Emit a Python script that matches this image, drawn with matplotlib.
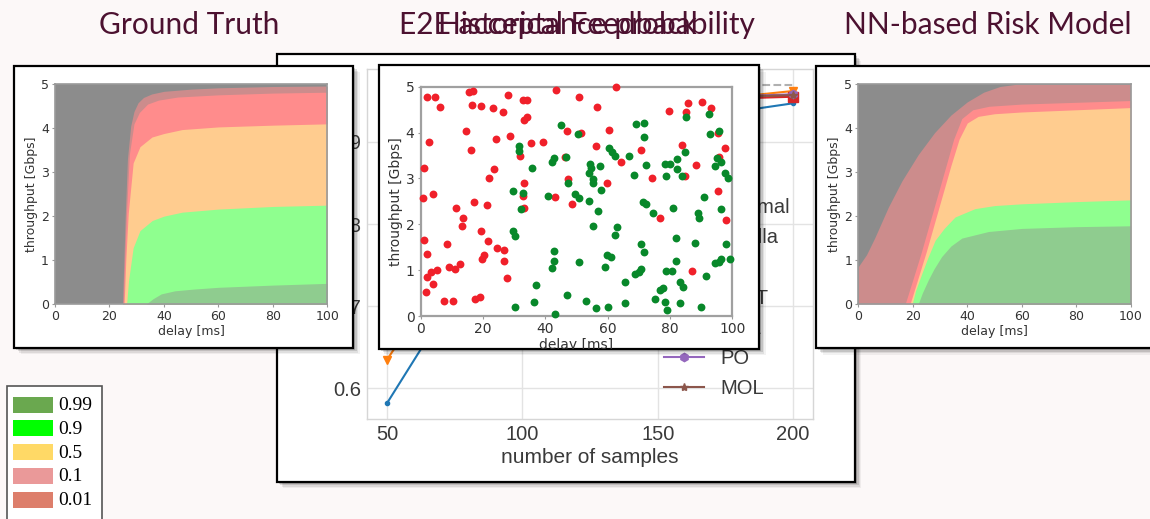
import numpy as np
import matplotlib
matplotlib.use('Agg')
import matplotlib.pyplot as plt
from matplotlib.patches import Rectangle
from matplotlib.lines import Line2D

W, H = 1150, 519
BG = '#fcf8f8'
TITLE_COLOR = '#4c1130'

# ---------------- titles ----------------
title_gt = 'Ground Truth'
title_mid_a = 'E2E acceptance probability'
title_mid_b = 'Historical Feedback'
title_nn = 'NN-based Risk Model'

# ---------------- line chart (background) ----------------
samples = [50, 100, 150, 200]
optimal = [0.969, 0.969, 0.969, 0.969]
vanilla = [0.582, 0.845, 0.923, 0.947]
ens = [0.635, 0.882, 0.945, 0.962]
mwt = [0.700, 0.905, 0.948, 0.957]
mle = [0.740, 0.915, 0.950, 0.955]
po = [0.720, 0.910, 0.952, 0.958]
mol = [0.750, 0.920, 0.953, 0.957]
series_names = ['Optimal', 'Vanilla', 'Ens.', 'MWT', 'MLE', 'PO', 'MOL']
x_ticks = [50, 100, 150, 200]
y_ticks = [0.6, 0.7, 0.8, 0.9]

# ---------------- level legend ----------------
level_labels = ['0.99', '0.9', '0.5', '0.1', '0.01']
level_legend_colors = ['#6aa84f', '#00ff00', '#ffd966', '#ea9999', '#dd7e6b']

# region colours of the two risk maps
col_none = '#8c8c8c'
col_001 = '#cc8c8c'
col_01 = '#ff8c8c'
col_05 = '#ffcc8f'
col_09 = '#8fff8f'
col_099 = '#8fcc8f'

# ---------------- ground truth boundaries ----------------
gt_d001 = [24.8, 25.3, 25.8, 26.6, 27.8, 29.0, 30.5, 32.5, 35.5, 40.0, 50.0, 60.0, 80.0, 100.0]
gt_t001 = [0.0, 1.0, 2.0, 3.3, 4.05, 4.38, 4.58, 4.7, 4.78, 4.84, 4.89, 4.92, 4.95, 4.96]
gt_d01 = [25.1, 25.6, 26.2, 27.3, 29.0, 31.0, 34.0, 38.0, 45.0, 60.0, 80.0, 100.0]
gt_t01 = [0.0, 1.0, 2.0, 3.4, 4.1, 4.36, 4.55, 4.64, 4.71, 4.76, 4.8, 4.82]
gt_d05 = [25.4, 26.0, 26.9, 28.7, 31.2, 35.6, 40.0, 46.7, 60.0, 80.0, 100.0]
gt_t05 = [0.0, 1.0, 2.06, 3.21, 3.58, 3.8, 3.88, 3.97, 4.03, 4.07, 4.1]
gt_d09 = [26.3, 27.0, 28.7, 31.2, 35.7, 40.0, 46.7, 60.0, 80.0, 100.0]
gt_t09 = [0.0, 0.53, 1.28, 1.67, 1.9, 2.0, 2.09, 2.16, 2.22, 2.25]
gt_d099 = [33.5, 36.0, 39.0, 44.0, 51.0, 60.0, 80.0, 100.0]
gt_t099 = [0.0, 0.12, 0.23, 0.3, 0.34, 0.38, 0.43, 0.47]

# ---------------- NN model boundaries ----------------
nn_d001 = [0.0, 3.0, 6.0, 11.0, 16.0, 22.0, 28.0, 34.0, 40.0, 46.0, 52.0, 58.0, 100.0]
nn_t001 = [0.85, 1.12, 1.5, 2.2, 2.8, 3.4, 3.9, 4.3, 4.6, 4.82, 4.95, 5.0, 5.0]
nn_d01 = [17.2, 20.0, 23.0, 26.0, 29.0, 32.0, 35.0, 38.0, 42.0, 48.0, 60.0, 80.0, 100.0]
nn_t01 = [0.0, 0.55, 1.15, 1.8, 2.45, 3.1, 3.75, 4.22, 4.42, 4.5, 4.55, 4.59, 4.63]
nn_d05 = [19.0, 22.0, 25.0, 28.0, 31.0, 34.0, 37.0, 40.0, 44.0, 50.0, 60.0, 80.0, 100.0]
nn_t05 = [0.0, 0.6, 1.2, 1.85, 2.5, 3.15, 3.75, 4.12, 4.27, 4.33, 4.37, 4.42, 4.47]
nn_d09 = [19.8, 21.0, 23.3, 25.5, 28.2, 31.5, 35.5, 42.8, 50.0, 60.0, 80.0, 100.0]
nn_t09 = [0.0, 0.3, 0.69, 1.05, 1.45, 1.72, 1.98, 2.17, 2.24, 2.28, 2.33, 2.37]
nn_d099 = [22.0, 23.5, 25.7, 27.8, 30.6, 34.0, 38.0, 47.8, 60.0, 80.0, 100.0]
nn_t099 = [0.0, 0.25, 0.55, 0.8, 1.08, 1.32, 1.5, 1.65, 1.72, 1.76, 1.78]

# ---------------- historical feedback scatter ----------------
red_delay = [1.9, 4.6, 6.3, 15.6, 16.9, 16.5, 19.3, 23.3, 26.3, 28.1, 32.8, 34.2, 43.3, 50.9,
             62.6, 56.7, 79.7, 85.1, 85.8, 90.4, 93.3, 14.5, 2.8, 16.3, 24.1, 28.7, 33.2, 34.0,
             35.4, 39.3, 47.1, 51.3, 60.3, 56.3, 64.2, 46.2, 31.9, 0.9, 23.6, 21.8, 33.2, 47.3,
             59.7, 32.7, 43.0, 33.3, 48.4, 0.6, 3.9, 17.1, 21.4, 11.3, 13.7, 13.2, 19.3, 0.9,
             8.3, 21.5, 24.4, 26.6, 1.9, 20.2, 19.7, 26.7, 12.6, 9.1, 10.9, 3.2, 1.9, 5.3, 3.9,
             27.6, 1.7, 7.5, 10.3, 17.5, 19.0, 74.3, 70.7, 76.8, 83.7, 84.8, 88.3, 95.4, 95.8,
             95.4, 97.8, 98.0, 87.0]
red_tput = [4.77, 4.78, 4.56, 4.89, 4.9, 4.6, 4.59, 4.54, 4.45, 4.82, 4.72, 4.72, 4.93, 4.78,
            5.0, 4.56, 4.48, 4.45, 4.64, 4.67, 4.53, 4.03, 3.79, 3.63, 3.87, 3.93, 4.27, 4.35,
            3.77, 3.8, 4.03, 3.98, 4.06, 3.71, 3.36, 3.47, 3.48, 3.22, 3.21, 3.02, 2.91, 2.98,
            2.91, 2.62, 2.59, 2.36, 2.44, 2.58, 2.67, 2.49, 2.41, 2.35, 2.14, 1.96, 1.85, 1.66,
            1.58, 1.63, 1.49, 1.43, 1.36, 1.33, 1.24, 1.19, 1.13, 1.07, 1.03, 0.95, 0.85, 1.0,
            0.69, 0.82, 0.52, 0.32, 0.32, 0.38, 0.42, 3.0, 3.63, 2.13, 3.72, 3.05, 3.3, 4.0,
            3.47, 2.73, 3.67, 2.09, 0.99]
green_delay = [44.9, 50.6, 69.0, 71.8, 71.7, 85.1, 92.6, 92.8, 95.6, 31.4, 31.6, 35.8, 42.9,
               42.1, 46.7, 54.3, 54.5, 54.1, 55.2, 55.4, 57.5, 60.5, 61.4, 62.5, 66.7, 68.4,
               72.3, 78.5, 80.0, 78.6, 82.1, 82.4, 84.0, 84.8, 94.5, 95.0, 96.3, 97.8, 98.6,
               29.7, 32.9, 32.1, 40.9, 49.4, 50.8, 47.3, 53.9, 58.0, 57.0, 55.2, 62.5, 62.9,
               71.4, 72.3, 74.5, 81.1, 88.9, 89.3, 91.0, 96.4, 29.7, 30.2, 42.9, 42.7, 42.0,
               50.9, 59.7, 61.1, 59.0, 70.6, 71.7, 70.6, 70.2, 68.8, 81.9, 81.8, 80.5, 78.6,
               88.0, 97.9, 94.4, 95.6, 96.4, 99.3, 91.5, 83.2, 84.3, 77.9, 76.8, 65.7, 75.3,
               78.4, 78.9, 83.2, 89.8, 65.7, 53.0, 56.3, 60.1, 46.8, 36.9, 36.4, 30.4, 43.2]
green_tput = [4.17, 3.96, 4.19, 4.2, 3.9, 4.33, 4.4, 3.97, 4.03, 3.71, 3.6, 3.23, 3.45,
              3.36, 3.46, 3.31, 3.22, 3.11, 2.99, 2.91, 3.28, 3.67, 3.58, 3.49, 3.49, 3.07,
              3.29, 3.32, 3.31, 3.05, 3.42, 3.2, 3.05, 3.58, 3.26, 3.44, 3.36, 3.11, 3.0,
              2.73, 2.69, 2.33, 2.62, 2.66, 2.57, 2.91, 2.51, 2.74, 2.3, 1.97, 1.77, 1.93,
              2.48, 2.44, 2.24, 2.35, 2.25, 2.14, 2.6, 2.33, 1.86, 1.75, 1.42, 1.19, 1.04,
              1.17, 1.33, 1.28, 1.06, 1.56, 1.4, 1.03, 0.95, 0.92, 1.71, 1.2, 0.99, 0.98,
              1.6, 1.57, 1.15, 1.18, 1.24, 1.24, 0.87, 0.75, 0.64, 0.6, 0.57, 0.75, 0.36,
              0.3, 0.12, 0.28, 0.19, 0.28, 0.33, 0.17, 0.19, 0.46, 0.68, 0.31, 0.2, 0.04]

panel_ticks_x = [0, 20, 40, 60, 80, 100]
panel_ticks_y = [0, 1, 2, 3, 4, 5]

# ================================================================
fig = plt.figure(figsize=(W / 100, H / 100), dpi=100)
fig.patch.set_facecolor(BG)


def frac(x0, y0, x1, y1):
    return [x0 / W, 1 - y1 / H, (x1 - x0) / W, (y1 - y0) / H]


def add_frame(x0, y0, x1, y1, z, lw=1.6, ec='black'):
    for off, a in [(6.5, 0.05), (5.0, 0.08), (3.5, 0.12), (2.0, 0.16)]:
        fig.add_artist(Rectangle(((x0 + off) / W, 1 - (y1 + off) / H),
                                 (x1 - x0) / W, (y1 - y0) / H,
                                 transform=fig.transFigure, facecolor='black',
                                 alpha=a, edgecolor='none', zorder=z - 0.2))
    r = Rectangle((x0 / W, 1 - y1 / H), (x1 - x0) / W, (y1 - y0) / H,
                  transform=fig.transFigure, facecolor='white', edgecolor=ec,
                  lw=lw, zorder=z)
    fig.add_artist(r)
    return r


# ---------------- line chart ----------------
add_frame(276.5, 54, 855, 481.5, 1)
axl = fig.add_axes(frac(366.8, 69.3, 813.4, 419))
axl.set_zorder(1.5)
axl.set_facecolor('white')
lf = 'Liberation Sans'
axl.plot(samples, optimal, ls='--', color='#b0b0b0', lw=1.5, label=series_names[0])
axl.plot(samples, vanilla, color='#1f77b4', marker='.', ms=6, lw=1.5, label=series_names[1])
axl.plot(samples, ens, color='#ff7f0e', marker='v', ms=6, lw=1.5, label=series_names[2])
axl.plot(samples, mwt, color='#2ca02c', marker='^', ms=6, lw=1.5, label=series_names[3])
axl.plot(samples, mle, color='#d62728', marker='s', ms=6.5, lw=1.5, label=series_names[4])
axl.plot(samples, po, color='#9467bd', marker='h', ms=6, lw=1.5, label=series_names[5])
axl.plot(samples, mol, color='#8c564b', marker='*', ms=6, lw=1.5, label=series_names[6])
axl.set_xlim(42.5, 207.5)
axl.set_ylim(0.5626, 0.9884)
axl.set_xticks(x_ticks)
axl.set_yticks(y_ticks)
axl.set_xticklabels([str(v) for v in x_ticks])
axl.set_yticklabels([f'{v:.1f}' for v in y_ticks])
axl.grid(True, color='#e3e3e3', lw=1.0)
axl.set_axisbelow(True)
for s in axl.spines.values():
    s.set_color('#d6d6d6')
    s.set_linewidth(1.0)
axl.tick_params(length=0, pad=4.3, labelsize=14.5, labelcolor='#3a3a3a')
for lab in axl.get_xticklabels() + axl.get_yticklabels():
    lab.set_fontfamily(lf)
axl.set_xlabel('number of samples', fontsize=15, color='#3a3a3a', fontfamily=lf, labelpad=3)
axl.legend(loc='center left', bbox_to_anchor=(664 / W, 1 - 298 / H),
           bbox_transform=fig.transFigure, frameon=False, borderpad=0,
           borderaxespad=0, handlelength=2.0, handletextpad=0.8,
           labelspacing=0.56, prop={'family': lf, 'size': 14.5},
           labelcolor='#3a3a3a')


def style_panel(ax, fs_tick, fs_lab):
    ax.set_xlim(0, 100)
    ax.set_ylim(0, 5)
    ax.set_xticks(panel_ticks_x)
    ax.set_yticks(panel_ticks_y)
    for s in ax.spines.values():
        s.set_color('#9a9a9a')
        s.set_linewidth(1.2)
    ax.tick_params(length=2.5, pad=2.0, labelsize=fs_tick, labelcolor='#333333',
                   color='#9a9a9a')
    ax.set_xlabel('delay [ms]', fontsize=fs_lab, color='#333333', labelpad=1.5)
    ax.set_ylabel('throughput [Gbps]', fontsize=fs_lab, color='#333333', labelpad=2)


def area_panel(ax, levels):
    ax.set_facecolor(col_none)
    for d, t, c in levels:
        ax.fill_between(d, 0, t, color=c, lw=0, antialiased=True)


# ---------------- ground truth ----------------
add_frame(14, 65.7, 353.3, 347.5, 3)
axg = fig.add_axes(frac(55, 84.3, 327.3, 304))
axg.set_zorder(3.5)
area_panel(axg, [(gt_d001, gt_t001, col_001), (gt_d01, gt_t01, col_01),
                 (gt_d05, gt_t05, col_05), (gt_d09, gt_t09, col_09),
                 (gt_d099, gt_t099, col_099)])
style_panel(axg, 9, 9)

# ---------------- historical feedback ----------------
box_s = add_frame(379.3, 65, 759, 348.5, 5)
axs = fig.add_axes(frac(420.7, 86.7, 732.3, 316))
axs.set_zorder(5.5)
axs.set_facecolor('white')
axs.scatter(red_delay, red_tput, s=32, color='#f0202a', lw=0, clip_on=False, zorder=3)
axs.scatter(green_delay, green_tput, s=32, color='#08882a', lw=0, clip_on=False, zorder=3)
style_panel(axs, 10, 10)
for s in axs.spines.values():
    s.set_linewidth(1.6)
    s.set_color('#a0a0a0')
axs.xaxis.label.set_clip_path(box_s)
axs.xaxis.label.set_clip_on(True)

# ---------------- NN model ----------------
add_frame(816, 65.7, 1175, 348.3, 7)
axn = fig.add_axes(frac(858.3, 84.3, 1130.7, 304))
axn.set_zorder(7.5)
area_panel(axn, [(nn_d001, nn_t001, col_001), (nn_d01, nn_t01, col_01),
                 (nn_d05, nn_t05, col_05), (nn_d09, nn_t09, col_09),
                 (nn_d099, nn_t099, col_099)])
style_panel(axn, 9, 9)

# ---------------- level legend ----------------
fig.add_artist(Rectangle((7.3 / W, 1 - 530 / H), 95 / W, (530 - 385.7) / H,
                         transform=fig.transFigure, facecolor='white',
                         edgecolor='#555555', lw=1.2, zorder=9))
row_y = [404.7, 428.4, 452.1, 475.8, 499.5]
for lab, c, yc in zip(level_labels, level_legend_colors, row_y):
    fig.add_artist(Rectangle((13.3 / W, 1 - (yc + 8) / H), 39.4 / W, 16 / H,
                             transform=fig.transFigure, facecolor=c,
                             edgecolor='none', zorder=9.5))
    fig.text(58.3 / W, 1 - (yc + 1) / H, lab, fontsize=14, fontfamily='Liberation Serif',
             color='black', va='center', ha='left', zorder=10)

# ---------------- titles ----------------
tf = 'Lato'
fig.text(189 / W, 1 - 34 / H, title_gt, fontsize=21.5, fontfamily=tf,
         color=TITLE_COLOR, ha='center', va='baseline', zorder=10)
fig.text(577 / W, 1 - 34 / H, title_mid_a, fontsize=21.5, fontfamily=tf,
         color=TITLE_COLOR, ha='center', va='baseline', zorder=10)
fig.text(567.5 / W, 1 - 34 / H, title_mid_b, fontsize=21.5, fontfamily=tf,
         color=TITLE_COLOR, ha='center', va='baseline', zorder=10)
fig.text(987.5 / W, 1 - 34 / H, title_nn, fontsize=21.5, fontfamily=tf,
         color=TITLE_COLOR, ha='center', va='baseline', zorder=10)

fig.savefig('out.png', dpi=100, facecolor=BG)
